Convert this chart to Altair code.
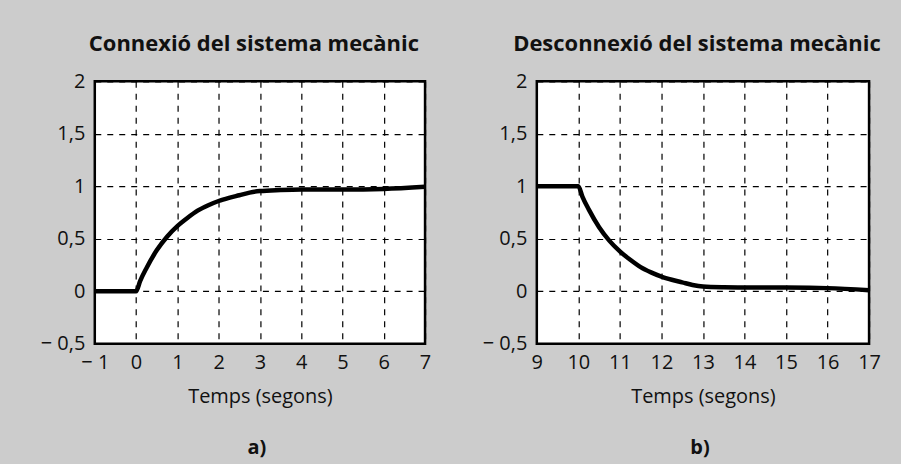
import altair as alt
import pandas as pd

# Panel a) — connection of the mechanical system
t_a = [-1, 0, 0.1, 0.25, 0.5, 0.75, 1, 1.25, 1.5, 1.75, 2, 2.25, 2.5, 2.75, 3, 3.5, 4, 5, 6, 7]
y_a = [0, 0, 0.1, 0.22, 0.39, 0.52, 0.62, 0.70, 0.77, 0.82, 0.86, 0.89, 0.915, 0.94, 0.955, 0.965, 0.97, 0.97, 0.975, 0.995]

# Panel b) — disconnection of the mechanical system
t_b = [9, 10, 10.1, 10.25, 10.5, 10.75, 11, 11.25, 11.5, 11.75, 12, 12.25, 12.5, 12.75, 13, 13.5, 14, 15, 16, 17]
y_b = [1, 1, 0.9, 0.78, 0.61, 0.48, 0.38, 0.30, 0.23, 0.18, 0.14, 0.11, 0.085, 0.06, 0.045, 0.038, 0.036, 0.035, 0.03, 0.01]

x_ticks_a = [-1, 0, 1, 2, 3, 4, 5, 6, 7]
x_ticks_b = [9, 10, 11, 12, 13, 14, 15, 16, 17]
y_ticks = [-0.5, 0, 0.5, 1, 1.5, 2]

titles = ["Connexió del sistema mecànic", "Desconnexió del sistema mecànic"]
x_title = "Temps (segons)"
panel_labels = ["a)", "b)"]

FONT = "Open Sans"
H = 263

label_expr = ("(datum.value < 0 ? '\u2212 ' : '') + "
              "replace(format(abs(datum.value), '~g'), '.', ',')")


def panel(ts, ys, xticks, title, plabel, W):
    df = pd.DataFrame({"t": ts, "y": ys})
    x = alt.X("t:Q",
              scale=alt.Scale(domain=[xticks[0], xticks[-1]], nice=False, zero=False),
              axis=alt.Axis(values=xticks, title=x_title, labelExpr=label_expr,
                            grid=True, gridDash=[6, 6], gridColor="#000000",
                            gridWidth=1.2, gridOpacity=1, ticks=False, domain=False,
                            labelFontSize=20, labelPadding=9, labelColor="#111111",
                            titleFontSize=20, titleFontWeight="normal",
                            titlePadding=14, titleColor="#111111", labelFlush=False))
    y = alt.Y("y:Q",
              scale=alt.Scale(domain=[-0.5, 2], nice=False, zero=False),
              axis=alt.Axis(values=y_ticks, title=None, labelExpr=label_expr,
                            grid=True, gridDash=[6, 6], gridColor="#000000",
                            gridWidth=1.2, gridOpacity=1, ticks=False, domain=False,
                            labelFontSize=20, labelPadding=10, labelColor="#111111",
                            labelFlush=False))
    line = alt.Chart(df).mark_line(color="black", strokeWidth=4.5,
                                   interpolate="monotone").encode(x=x, y=y)
    lab = alt.Chart(pd.DataFrame({"l": [plabel]})).mark_text(
        font=FONT, fontSize=20, fontWeight="bold", color="#111111", baseline="middle"
    ).encode(text="l:N", x=alt.value(W / 2 - 3), y=alt.value(367))
    return alt.layer(line, lab).properties(
        width=W, height=H,
        title=alt.TitleParams(title, fontSize=22, fontWeight="bold", font=FONT,
                              color="#111111", offset=15, dx=-6, anchor="middle"))


left = panel(t_a, y_a, x_ticks_a, titles[0], panel_labels[0], 331)
right = panel(t_b, y_b, x_ticks_b, titles[1], panel_labels[1], 333)

chart = alt.hconcat(left, right, spacing=112, bounds="flush").properties(
    padding={"left": 39, "top": 31, "right": 18, "bottom": 8},
    background="#cccccc",
).configure(font=FONT).configure_view(
    stroke="#000000", strokeWidth=2.5, fill="white"
)

chart.save("out.html", embed_options={"renderer": "svg", "actions": False})
